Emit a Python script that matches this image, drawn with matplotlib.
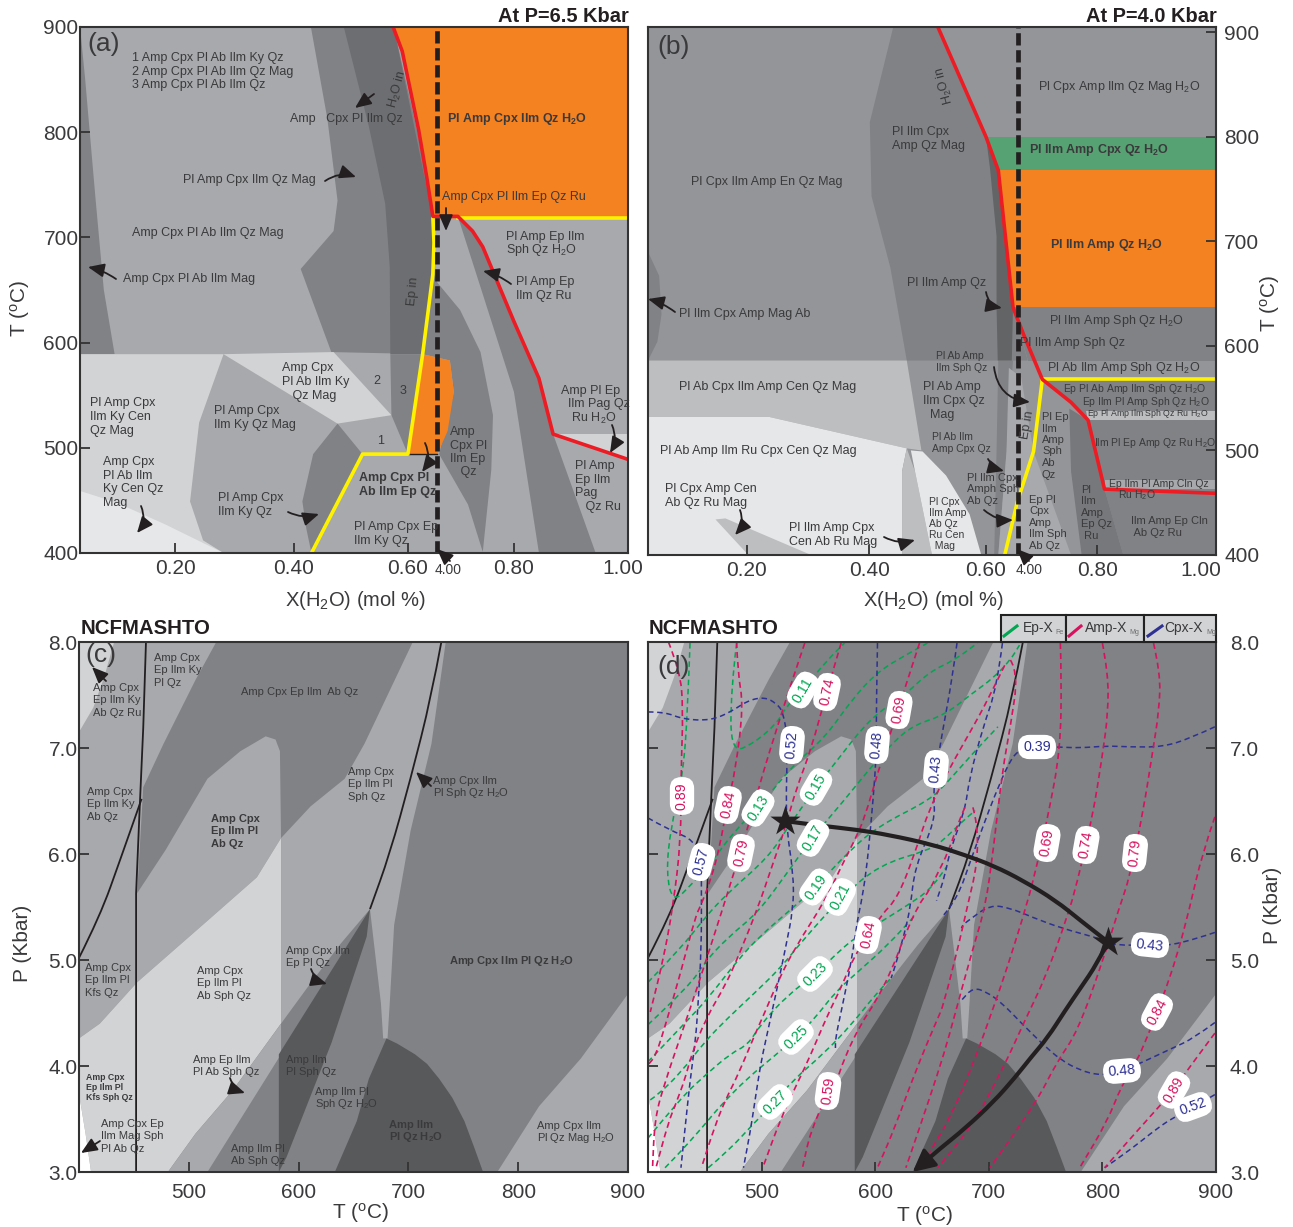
import matplotlib
matplotlib.use('Agg')
import matplotlib.pyplot as plt
from matplotlib.patches import Rectangle, PathPatch
from matplotlib.path import Path
from matplotlib.lines import Line2D
from matplotlib.transforms import ScaledTranslation

plt.rcParams['font.family'] = ['Liberation Sans', 'DejaVu Sans']
plt.rcParams['mathtext.default'] = 'regular'

W, H = 1293, 1227
TXT = '#3a3a3c'
INK = '#231f20'
G1, G2, G3, G4, G5, G6 = '#e6e7e8', '#d1d3d4', '#a7a9ac', '#939598', '#808285', '#6d6e71'
DARK = '#58595b'
ORANGE = '#f58220'
GREEN = '#57a273'
RED = '#ed1c24'
YELLOW = '#fff200'
PINK, EPG, CPX = '#d7125e', '#00a651', '#2e3192'

# ---- panel a: X(H2O), T
a_strip = [(.034, 900), (.043, 851), (.061, 739), (.076, 650), (.095, 589), (.034, 589)]
a_band1 = [(.441, 900), (.47, 813), (.488, 735), (.481, 706), (.423, 670), (.477, 591), (.645, 589),
           (.66, 660), (.656, 719), (.631, 795), (.587, 900)]
a_band2 = [(.499, 900), (.543, 806), (.572, 732), (.58, 672), (.581, 589), (.638, 589), (.656, 665),
           (.656, 719), (.587, 900)]
a_band3 = [(.581, 589), (.638, 589), (.612, 494), (.583, 531)]
a_low = [(.034, 589), (.287, 589), (.244, 524), (.228, 449), (.251, 412), (.287, 400), (.034, 400)]
a_lowest = [(.034, 459), (.098, 448), (.185, 427), (.287, 400), (.034, 400)]
a_tri = [(.287, 589), (.481, 591), (.583, 531), (.488, 523)]
a_mid = [(.488, 523), (.532, 494), (.442, 400), (.433, 423), (.426, 449), (.445, 494)]
a_curve = [(.664, 657), (.704, 631), (.74, 591), (.762, 531), (.759, 479), (.744, 401), (.718, 446),
           (.667, 494), (.693, 553), (.686, 583), (.638, 589), (.656, 665)]
a_right = [(.70, 720), (.744, 646), (.799, 553), (.843, 400), (.943, 400), (.868, 513), (.843, 566),
           (.799, 620), (.744, 691), (.726, 706)]
a_rlight = [(.868, 513), (1.0, 513), (1.0, 489)]
a_orange1 = [(.587, 900), (1.0, 900), (1.0, 718), (.656, 718), (.645, 758), (.631, 802), (.602, 877)]
a_orange2 = [(.638, 589), (.686, 583), (.693, 553), (.682, 516), (.664, 494), (.612, 494)]
a_red = [(.586, 900), (.602, 877), (.631, 802), (.645, 758), (.656, 720), (.70, 720), (.726, 706), (.744, 691),
         (.799, 620), (.843, 566), (.868, 513), (1.0, 489)]
a_yellow = [(.656, 720), (.658, 695), (.656, 665), (.638, 589), (.612, 494), (.532, 494), (.442, 400)]
a_yellow2 = [(.70, 718), (1.0, 718)]
a_thin = [(.612, 494), (.664, 494)]

# ---- panel b: X(H2O), T
b_band = [(.45, 905), (.41, 814), (.413, 743), (.445, 675), (.473, 586), (.679, 586), (.654, 637), (.629, 768),
          (.608, 800), (.526, 905)]
b_lobe = [(.032, 690), (.051, 667), (.055, 630), (.048, 604), (.032, 586)]
b_light = [(.032, 586), (.473, 586), (.498, 500), (.473, 502), (.239, 532), (.032, 532)]
b_white = [(.032, 532), (.239, 532), (.473, 502), (.465, 480), (.465, 400), (.032, 400)]
b_tri = [(.147, 434), (.164, 435), (.31, 400), (.203, 400)]
b_strip = [(.465, 480), (.473, 502), (.487, 480), (.516, 400), (.465, 400)]
b_white2 = [(.48, 500), (.5, 499), (.54, 476), (.58, 439), (.6, 400), (.516, 400), (.487, 480)]
b_mid = [(.629, 586), (.654, 586), (.643, 499), (.629, 400), (.622, 400), (.626, 499)]
b_dark = [(.608, 800), (.629, 768), (.654, 637), (.652, 586), (.628, 586), (.626, 637), (.626, 705), (.615, 769)]
b_green = [(.608, 800), (1, 800), (1, 768), (.629, 768)]
b_orange = [(.629, 768), (1, 768), (1, 637), (.654, 637)]
b_under = [(.654, 637), (1, 637), (1, 586), (.679, 586)]
b_lowr = [(.704, 568), (1, 568), (1, 460), (.81, 463), (.782, 529), (.753, 546)]
b_str1 = [(.778, 538), (1, 538), (1, 529), (.782, 529)]
b_str2 = [(.81, 472), (1, 472), (1, 463), (.81, 463)]
b_botr = [(.81, 463), (1, 460), (1, 400), (.842, 400)]
b_band2 = [(.75, 540), (.782, 529), (.81, 463), (.842, 400), (.771, 400), (.753, 480)]
b_pale = [(.689, 499), (.753, 400), (.64, 400)]
b_pale2 = [(.647, 579), (.668, 570), (.689, 499), (.661, 450), (.64, 400), (.629, 400), (.643, 499)]
b_red = [(.526, 905), (.608, 800), (.629, 768), (.654, 637), (.672, 611), (.704, 568), (.753, 546), (.782, 529),
         (.81, 463), (1, 459)]
b_yellow = [(.704, 568), (.689, 499), (.661, 450), (.64, 400)]
b_yellow2 = [(.704, 568), (1, 568)]

# ---- panels c and d share the same fields: T, P
c_upper = [(400, 8), (525, 8), (506, 7.64), (477, 7.04), (458.5, 6.63), (453, 5.63), (479, 6.04), (517, 6.71),
           (547, 6.97), (570, 7.11), (579, 7.08), (583, 6.97), (584, 6.15), (562, 5.78), (517, 5.37), (453, 4.79),
           (419, 4.40), (400, 4.26)]
c_corner = [(400, 8), (432, 8), (423, 7.67), (413, 7.38), (400, 7.15)]
c_pale = [(400, 4.26), (419, 4.40), (453, 4.79), (517, 5.37), (562, 5.78), (584, 6.15), (584, 4.40), (540, 3.77),
          (506, 3.36), (481, 3.0), (411, 3.0), (406, 3.36), (400, 3.74)]
c_white = [(400, 3.74), (406, 3.36), (411, 3), (400, 3)]
c_band = [(584, 6.15), (611, 6.45), (642, 6.71), (660, 7.04), (704, 8), (734, 8), (721, 7.04), (702, 6.22), (687, 5.33),
          (683, 4.59), (681, 4.26), (677, 4.26), (675, 4.59), (665, 5.48), (638, 5.15), (608, 4.74), (584, 4.40)]
c_lowband = [(584, 4.40), (540, 3.77), (506, 3.36), (481, 3), (517, 3), (584, 4.11)]
c_wedge = [(665, 5.48), (662, 5.22), (630, 4.22), (589, 3.14), (582, 3), (582, 4.11)]
c_dome = [(680, 4.26), (690, 4.21), (706, 4.11), (717, 4.02), (728, 3.88), (740, 3.70), (751, 3.48), (760, 3.23),
          (768, 3), (633, 3), (653, 3.48), (664, 3.88), (672, 4.07)]
c_corner2 = [(900, 4.68), (900, 3), (781, 3), (819, 3.62), (857, 4.07)]
c_l1 = [(400, 5.02), (419, 5.41), (438, 5.96), (457, 6.52)]
c_l2 = [(461, 8), (458.5, 7.19), (455, 6.37), (452, 5.63), (452, 3)]
c_l3 = [(730, 8), (721, 7.49), (702, 6.71), (683, 6.0), (665, 5.48)]

# ---- panel d isopleths: Amp-XMg
amp_089a = [(418, 8), (428, 7.73), (431, 7.38), (429, 6.76), (429, 6.13), (422, 5.5), (413, 4.98), (402, 4.51)]
amp_084a = [(478, 8), (479, 7.71), (484, 7.4), (477, 6.79), (470, 6.48), (463, 6.06), (455, 5.75), (446, 5.5),
            (442, 5.42), (429, 4.89), (416, 4.41), (407, 4.10), (400, 4.01)]
amp_079a = [(538, 7.99), (526, 7.61), (513, 7.17), (501, 6.76), (488, 6.25), (470, 5.63), (462, 5.36), (444, 4.76),
            (429, 4.29), (415, 3.85), (406, 3.51), (404, 3.04)]
amp_074a = [(570, 7.99), (557, 7.52), (544, 7.0), (530, 6.6), (521, 6.25), (509, 5.88), (497, 5.5), (479, 5.02),
            (468, 4.76), (451, 4.45), (438, 4.10), (433, 3.89), (424, 3.63), (418, 3.47), (407, 3.04)]
amp_069a = [(639, 7.99), (620, 7.36), (602, 6.76), (591, 6.35), (582, 6.13), (570, 5.88), (556, 5.56), (529, 5.11),
            (514, 4.79), (503, 4.51), (495, 4.32), (479, 3.91), (469, 3.7), (459, 3.44), (447, 3.04)]
amp_064 = [(714, 7.78), (699, 7.45), (683, 7.14), (666, 6.82), (648, 6.44), (635, 6.01), (620, 5.59), (605, 5.42),
           (594, 5.22), (582, 5.05), (570, 4.74), (558, 4.48), (543, 4.10), (532, 3.85), (517, 3.51), (501, 3.04)]
amp_059 = [(679, 6.44), (675, 6.35), (664, 6.01), (655, 5.82), (648, 5.66), (638, 5.52), (626, 5.23), (614, 4.89),
           (600, 4.6), (587, 4.39), (573, 4.08), (565, 3.82), (558, 3.74), (543, 3.38), (536, 3.04)]
amp_x1 = [(686, 6.44), (690, 6.29), (690, 5.91), (681, 5.5), (675, 5.21), (660, 4.57), (655, 4.45), (635, 3.94),
          (617, 3.41), (602, 3.04)]
amp_x2 = [(719, 7.83), (726, 7.71), (719, 7.2), (712, 6.79), (704, 6.04), (697, 5.5), (686, 5.11), (670, 4.48),
          (661, 4.13), (648, 3.7), (627, 3.04)]
amp_069b = [(763, 7.99), (764, 7.67), (763, 6.98), (752, 6.35), (742, 5.88), (734, 5.54), (716, 4.92), (704, 4.55),
            (686, 4.01), (666, 3.51), (648, 3.19), (641, 3.04)]
amp_074b = [(800, 7.99), (805, 7.71), (805, 7.33), (800, 6.93), (791, 6.33), (777, 5.7), (770, 5.44), (751, 4.86),
            (730, 4.39), (714, 4.01), (686, 3.44), (655, 3.04)]
amp_079b = [(845, 7.99), (851, 7.71), (850, 7.36), (844, 6.95), (836, 6.41), (824, 5.78), (815, 5.5), (800, 4.98),
            (778, 4.32), (760, 4.04), (742, 3.66), (701, 3.04)]
amp_084b = [(899, 6.35), (888, 6.01), (877, 5.5), (866, 5.05), (853, 4.64), (839, 4.26), (830, 4.04), (817, 3.82),
            (804, 3.47), (780, 3.04)]
amp_089b = [(899, 4.31), (883, 4.08), (862, 3.77), (851, 3.63), (830, 3.38), (802, 3.04)]

# Ep-XFe
ep_011 = [(478, 7.99), (473, 7.55), (473, 6.95), (494, 7.05), (514, 7.24), (521, 7.38), (536, 7.55), (558, 7.83), (573, 7.99)]
ep_013 = [(437, 7.99), (435, 7.38), (431, 6.76), (420, 6.25), (416, 5.82), (422, 5.54), (438, 5.71), (455, 5.91),
          (477, 6.23), (497, 6.43), (526, 6.82), (556, 7.1), (579, 7.45), (602, 7.72), (629, 7.89), (646, 7.99)]
ep_015 = [(400, 4.79), (429, 5.11), (450, 5.4), (470, 5.63), (506, 5.97), (523, 6.25), (548, 6.63), (567, 6.89),
          (591, 7.22), (611, 7.4), (626, 7.5), (648, 7.72), (670, 7.83), (690, 7.99)]
ep_017 = [(400, 4.39), (437, 4.76), (450, 4.98), (470, 5.21), (497, 5.45), (521, 5.8), (545, 6.16), (573, 6.51),
          (594, 6.79), (617, 7.07), (635, 7.22), (661, 7.31), (686, 7.52), (704, 7.66), (719, 7.83), (727, 7.97)]
ep_019 = [(400, 4.04), (433, 4.41), (453, 4.64), (479, 5), (499, 5.23), (523, 5.45), (548, 5.69), (578, 6.04),
          (604, 6.27), (648, 6.51), (663, 6.67), (686, 6.95), (708, 7.2)]
ep_021 = [(402, 3.68), (409, 3.73), (429, 3.94), (450, 4.23), (470, 4.45), (494, 4.69), (517, 4.93), (535, 5.17),
          (570, 5.59), (604, 5.9), (648, 6.04), (660, 6.13), (675, 6.29), (688, 6.41)]
ep_023 = [(400, 3.32), (429, 3.7), (450, 3.91), (473, 4.12), (488, 4.2), (499, 4.39), (523, 4.67), (547, 4.86),
          (565, 5.05), (582, 5.21), (605, 5.36), (629, 5.52), (648, 5.66), (663, 5.88)]
ep_025 = [(415, 3.04), (426, 3.16), (447, 3.41), (464, 3.63), (488, 3.89), (512, 4.1), (530, 4.27), (547, 4.45),
          (565, 4.7), (585, 4.89), (611, 5.14), (635, 5.42)]
ep_027 = [(453, 3.04), (470, 3.19), (494, 3.47), (512, 3.66), (526, 3.85), (556, 4.13), (579, 4.39), (600, 4.67), (614, 4.83)]

# Cpx-XMg
cpx_057 = [(400, 6.34), (418, 6.23), (441, 6.13), (447, 5.92), (447, 5.63), (447, 5.11), (444, 4.57), (442, 4.26),
           (438, 3.94), (435, 3.66), (429, 3.04)]
cpx_052a = [(400, 7.34), (415, 7.34), (431, 7.27), (455, 7.26), (473, 7.34), (488, 7.45), (503, 7.48), (513, 7.42),
            (519, 7.34), (523, 7.07), (521, 6.3), (528, 5.82), (528, 5.49), (521, 5.11), (513, 4.7), (504, 4.26),
            (499, 4.01), (494, 3.66), (490, 3.38), (484, 3.04)]
cpx_048a = [(602, 7.99), (601, 7.38), (601, 7.02), (600, 6.76), (596, 6.25), (592, 5.82), (587, 5.5), (585, 5.42),
            (579, 4.98), (570, 4.51), (565, 4.26), (565, 4.17)]
cpx_043a = [(672, 7.99), (668, 7.67), (659, 7.14), (654, 6.82), (651, 6.57), (653, 6.32), (635, 5.88), (631, 5.5),
            (626, 5.26), (617, 4.92), (614, 4.83)]
cpx_039 = [(899, 7.2), (877, 7.09), (853, 7.01), (824, 7.01), (804, 7.02), (780, 7.0), (761, 7.01), (742, 7.01),
           (725, 6.98), (716, 6.82), (710, 6.67), (701, 6.44), (683, 5.91), (675, 5.66), (666, 5.5), (660, 5.42)]
cpx_039b = [(712, 7.99), (707, 7.57), (695, 7.2), (683, 6.72), (679, 6.41), (666, 6.04), (661, 5.78), (654, 5.56)]
cpx_043b = [(899, 5.26), (866, 5.14), (842, 5.14), (811, 5.14), (805, 5.17), (795, 5.21), (764, 5.3), (739, 5.4),
            (719, 5.49), (701, 5.52), (683, 5.38), (677, 5.33), (676, 5.3)]
cpx_048b = [(899, 4.41), (880, 4.26), (862, 4.17), (848, 4.1), (836, 4.04), (817, 3.95), (798, 3.91), (780, 3.96),
            (763, 4.06), (748, 4.2), (730, 4.39), (712, 4.59), (698, 4.7), (686, 4.74), (676, 4.62)]
cpx_052b = [(899, 3.73), (880, 3.61), (862, 3.51), (848, 3.41), (827, 3.23), (802, 3.04)]

# P-T path
path_1 = [(521, 6.31), (557, 6.26), (583, 6.23), (612, 6.18), (650, 6.09), (679, 5.99), (704, 5.89), (730, 5.75),
          (759, 5.56), (781, 5.37), (805, 5.17)]
path_2 = [(805, 5.17), (795, 4.96), (781, 4.74), (767, 4.52), (752, 4.27), (737, 4.08), (723, 3.89), (704, 3.66),
          (679, 3.41), (657, 3.22), (642, 3.08)]
path_end = (633, 3.0)

# ---- tick labels
x_ticks_a = [.2018, .411, .612, .799, 1.0]
x_ticks_b = [.2, .409, .608, .798, 1.0]
x_labels = ['0.20', '0.40', '0.60', '0.80', '1.00']
t_ticks = [900, 800, 700, 600, 500, 400]
tp_ticks = [500, 600, 700, 800, 900]
p_ticks = [8, 7, 6, 5, 4, 3]
p_labels = ['8.0', '7.0', '6.0', '5.0', '4.0', '3.0']

# text: left px, top line py, line step, text, size, weight
labels_a = [
    (132, 58, 13.5, '1 Amp Cpx Pl Ab Ilm Ky Qz\n2 Amp Cpx Pl Ab Ilm Qz Mag\n3 Amp Cpx Pl Ab Ilm Qz', 9, 'normal'),
    (290, 119, 0, 'Amp   Cpx Pl Ilm Qz', 9, 'normal'),
    (447, 119, 0, 'Pl Amp Cpx Ilm Qz H$_2$O', 9, 'bold'),
    (183, 180, 0, 'Pl Amp Cpx Ilm Qz Mag', 9, 'normal'),
    (442, 197, 0, 'Amp Cpx Pl Ilm Ep Qz Ru', 9, 'normal'),
    (132, 233, 0, 'Amp Cpx Pl Ab Ilm Qz Mag', 9, 'normal'),
    (123, 279, 0, 'Amp Cpx Pl Ab Ilm Mag', 9, 'normal'),
    (506, 237, 13.5, 'Pl Amp Ep Ilm\nSph Qz H$_2$O', 9, 'normal'),
    (516, 282, 13.5, 'Pl Amp Ep\nIlm Qz Ru', 9, 'normal'),
    (282, 368, 14, 'Amp Cpx\nPl Ab Ilm Ky\n   Qz Mag', 9, 'normal'),
    (373, 381, 0, '2', 9, 'normal'), (400, 391, 0, '3', 9, 'normal'), (377, 441, 0, '1', 9, 'normal'),
    (90, 403, 14, 'Pl Amp Cpx\nIlm Ky Cen\nQz Mag', 9, 'normal'),
    (214, 411, 14, 'Pl Amp Cpx\nIlm Ky Qz Mag', 9, 'normal'),
    (561, 391, 13.5, 'Amp Pl Ep\n  Ilm Pag Qz\n   Ru H$_2$O', 9, 'normal'),
    (450, 432, 13.5, 'Amp\nCpx Pl\nIlm Ep\n   Qz', 9, 'normal'),
    (103, 462, 13.7, 'Amp Cpx\nPl Ab Ilm\nKy Cen Qz\nMag', 9, 'normal'),
    (359, 478, 14, 'Amp Cpx Pl\nAb Ilm Ep Qz', 9, 'bold'),
    (575, 466, 13.7, 'Pl Amp\nEp Ilm\nPag\n   Qz Ru', 9, 'normal'),
    (218, 498, 14, 'Pl Amp Cpx\nIlm Ky Qz', 9, 'normal'),
    (354, 527, 14, 'Pl Amp Cpx Ep\nIlm Ky Qz', 9, 'normal'),
    (435, 570, 0, '4.00', 10, 'normal'),
]
labels_b = [
    (1038, 87, 0, 'Pl Cpx Amp Ilm Qz Mag H$_2$O', 9, 'normal'),
    (892, 132, 14, 'Pl Ilm Cpx\nAmp Qz Mag', 9, 'normal'),
    (1029, 150, 0, 'Pl Ilm Amp Cpx Qz H$_2$O', 9, 'bold'),
    (691, 182, 0, 'Pl Cpx Ilm Amp En Qz Mag', 9, 'normal'),
    (1050, 245, 0, 'Pl Ilm Amp Qz H$_2$O', 9, 'bold'),
    (907, 283, 0, 'Pl Ilm Amp Qz', 9, 'normal'),
    (679, 314, 0, 'Pl Ilm Cpx Amp Mag Ab', 9, 'normal'),
    (1049, 321, 0, 'Pl Ilm Amp Sph Qz H$_2$O', 9, 'normal'),
    (1020, 343, 0, 'Pl Ilm Amp Sph Qz', 9, 'normal'),
    (936, 356, 11.5, 'Pl Ab Amp\nIlm Sph Qz', 7.5, 'normal'),
    (1047, 368, 0, 'Pl Ab Ilm Amp Sph Qz H$_2$O', 9, 'normal'),
    (679, 387, 0, 'Pl Ab Cpx Ilm Amp Cen Qz Mag', 9, 'normal'),
    (923, 387, 14, 'Pl Ab Amp\nIlm Cpx Qz\n  Mag', 9, 'normal'),
    (1063, 389, 0, 'Ep Pl Ab Amp Ilm Sph Qz H$_2$O', 7.5, 'normal'),
    (1082, 402, 0, 'Ep Ilm Pl Amp Sph Qz H$_2$O', 7.5, 'normal'),
    (1087, 414, 0, 'Ep Pl Amp Ilm Sph Qz Ru H$_2$O', 6.3, 'normal'),
    (1042, 417, 11.5, 'Pl Ep\nIlm\nAmp\nSph\nAb\nQz', 8, 'normal'),
    (1094, 443, 0, 'Ilm Pl Ep Amp Qz Ru H$_2$O', 7.5, 'normal'),
    (932, 437, 11.5, 'Pl Ab Ilm\nAmp Cpx Qz', 7.5, 'normal'),
    (660, 451, 0, 'Pl Ab Amp Ilm Ru Cpx Cen Qz Mag', 9, 'normal'),
    (1109, 484, 0, 'Ep Ilm Pl Amp Cln Qz', 7.5, 'normal'),
    (1118, 495, 0, 'Ru H$_2$O', 7.5, 'normal'),
    (967, 478, 11.3, 'Pl Ilm Cpx\nAmph Sph\nAb Qz', 8, 'normal'),
    (665, 489, 14, 'Pl Cpx Amp Cen\nAb Qz Ru Mag', 9, 'normal'),
    (929, 502, 11, 'Pl Cpx\nIlm Amp\nAb Qz\nRu Cen\n  Mag', 7.5, 'normal'),
    (1029, 500, 11.4, 'Ep Pl\nCpx\nAmp\nIlm Sph\nAb Qz', 8, 'normal'),
    (1081, 490, 11.5, 'Pl\nIlm\nAmp\nEp Qz\n Ru', 8, 'normal'),
    (1131, 521, 11.5, 'Ilm Amp Ep Cln\n Ab Qz Ru', 8, 'normal'),
    (789, 528, 14, 'Pl Ilm Amp Cpx\nCen Ab Ru Mag', 9, 'normal'),
    (1016, 570, 0, '4.00', 10, 'normal'),
]
labels_c = [
    (154, 658, 12.3, 'Amp Cpx\nEp Ilm Ky\nPl Qz', 8, 'normal'),
    (93, 688, 12.3, 'Amp Cpx\nEp Ilm Ky\nAb Qz Ru', 8, 'normal'),
    (241, 692, 0, 'Amp Cpx Ep Ilm  Ab Qz', 8, 'normal'),
    (348, 772, 12.3, 'Amp Cpx\nEp Ilm Pl\nSph Qz', 8, 'normal'),
    (433, 781, 12.3, 'Amp Cpx Ilm\nPl Sph Qz H$_2$O', 8, 'normal'),
    (87, 792, 12.3, 'Amp Cpx\nEp Ilm Ky\nAb Qz', 8, 'normal'),
    (211, 819, 12.3, 'Amp Cpx\nEp Ilm Pl\nAb Qz', 8, 'bold'),
    (449, 961, 0, 'Amp Cpx Ilm Pl Qz H$_2$O', 8, 'bold'),
    (286, 951, 12.3, 'Amp Cpx Ilm\nEp Pl Qz', 8, 'normal'),
    (197, 971, 12.3, 'Amp Cpx\nEp Ilm Pl\nAb Sph Qz', 8, 'normal'),
    (85, 968, 12.3, 'Amp Cpx\nEp Ilm Pl\nKfs Qz', 8, 'normal'),
    (193, 1060, 12.3, 'Amp Ep Ilm\nPl Ab Sph Qz', 8, 'normal'),
    (286, 1060, 12.3, 'Amp Ilm\nPl Sph Qz', 8, 'normal'),
    (86, 1078, 10, 'Amp Cpx\nEp Ilm Pl\nKfs Sph Qz', 6.3, 'bold'),
    (315, 1092, 12.3, 'Amp Ilm Pl\nSph Qz H$_2$O', 8, 'normal'),
    (101, 1124, 12.3, 'Amp Cpx Ep\nIlm Mag Sph\nPl Ab Qz', 8, 'normal'),
    (389, 1125, 12.3, 'Amp Ilm\nPl Qz H$_2$O', 8, 'bold'),
    (537, 1126, 12.3, 'Amp Cpx Ilm\nPl Qz Mag H$_2$O', 8, 'normal'),
    (231, 1149, 12.3, 'Amp Ilm Pl\nAb Sph Qz', 8, 'normal'),
]
# arrows: tail px, head px, curvature
arrows_all = [
    (374, 94, 355, 108, 0), (325, 181, 356, 177, -.25), (116, 279, 88, 267, .1), (446, 208, 446, 231, 0),
    (511, 284, 483, 271, .1), (425, 443, 422, 472, -.3), (141, 506, 137, 533, -.3), (288, 512, 319, 514, .2),
    (612, 425, 610, 453, -.25), (450, 561, 437, 549, 0),
    (675, 312, 648, 299, .1), (986, 292, 1002, 308, .35), (994, 367, 1030, 402, .4),
    (988, 459, 1004, 471, .2), (984, 510, 1013, 520, .2), (740, 510, 735, 535, -.3), (884, 537, 915, 540, .2),
    (1029, 561, 1017, 549, 0),
    (106, 681, 92, 667, 0), (431, 786, 416, 772, 0), (311, 969, 327, 984, .25), (230, 1078, 245, 1093, .25),
    (100, 1141, 81, 1153, 0),
]
# curve labels in d: px, py, text, rotation
tags_amp = [(682, 796, '0.89', 90), (728, 805, '0.84', 78), (741, 853, '0.79', 78), (827, 692, '0.74', 78),
            (899, 710, '0.69', 80), (868, 935, '0.64', 78), (828, 1091, '0.59', 82), (1047, 843, '0.69', 80),
            (1086, 845, '0.74', 80), (1135, 853, '0.79', 84), (1157, 1012, '0.84', 62), (1174, 1090, '0.89', 60)]
tags_ep = [(803, 690, '0.11', 60), (758, 808, '0.13', 58), (816, 787, '0.15', 60), (813, 838, '0.17', 60),
           (816, 887, '0.19', 55), (840, 897, '0.21', 62), (815, 974, '0.23', 45), (796, 1037, '0.25', 45),
           (775, 1102, '0.27', 45)]
tags_cpx = [(792, 745, '0.52', 85), (877, 745, '0.48', 85), (936, 769, '0.43', 85), (701, 862, '0.57', 75),
            (1037, 747, '0.39', 0), (1150, 945, '0.43', -6), (1122, 1071, '0.48', 5), (1193, 1107, '0.52', 20)]
# legend above d: box left, right, colour, swatch x0, x1, text, text x, subscript, subscript x
legend_cells = [(1001, 1066, EPG, 1004, 1017, 'Ep-X', 1023, 'Fe', 1055),
                (1066, 1144, PINK, 1069, 1081, 'Amp-X', 1085, 'Mg', 1129),
                (1144, 1216, CPX, 1148, 1162, 'Cpx-X', 1164, 'Mg', 1206)]

fig = plt.figure(figsize=(W / 100, H / 100), dpi=100, facecolor='white')


def new_ax(l, t, r, b):
    return fig.add_axes([l / W, 1 - b / H, (r - l) / W, (b - t) / H])


def fill(ax, poly, color):
    xs, ys = zip(*poly)
    ax.fill(xs, ys, color=color, lw=0, zorder=1)


def line(ax, pts, color, lw, z=3, **kw):
    xs, ys = zip(*pts)
    ax.plot(xs, ys, color=color, lw=lw, zorder=z, **kw)


def curve(ax, pts, color, lw, z=3, ls='-'):
    # read points act as quadratic control points so the curve runs smooth
    verts, codes = [pts[0]], [Path.MOVETO]
    for p, q in zip(pts[1:-1], pts[2:]):
        verts += [p, ((p[0] + q[0]) / 2, (p[1] + q[1]) / 2)]
        codes += [Path.CURVE3, Path.CURVE3]
    verts.append(pts[-1])
    codes.append(Path.LINETO)
    ax.add_patch(PathPatch(Path(verts, codes), fc='none', ec=color, lw=lw, ls=ls, zorder=z, capstyle='butt'))


def ptext(x, y, s, size=9, weight='normal', color=TXT, **kw):
    kw.setdefault('ha', 'left')
    kw.setdefault('va', 'center')
    return fig.text(x / W, 1 - y / H, s, fontsize=size, fontweight=weight, color=color, zorder=10, **kw)


def put_labels(labels):
    for x, y, step, s, size, weight in labels:
        for i, row in enumerate(s.split('\n')):
            ptext(x, y + i * step, row, size, weight)


def style(ax, xpad=4, ypad=1):
    for sp in ax.spines.values():
        sp.set_linewidth(1.5)
        sp.set_color('#333333')
        sp.set_zorder(8)
    ax.tick_params(direction='in', length=7.5, width=1.3, color='#333333', labelsize=15, labelcolor=TXT)
    ax.tick_params(axis='x', pad=xpad)
    ax.tick_params(axis='y', pad=ypad)


def nudge_last(ax, px):
    lab = ax.xaxis.get_majorticklabels()[-1]
    lab.set_transform(lab.get_transform() + ScaledTranslation(px / 100, 0, fig.dpi_scale_trans))


# ---- a
ax = new_ax(80, 27, 628, 553)
ax.set_facecolor(G3)
ax.set_xlim(.034, 1.0)
ax.set_ylim(400, 900)
for poly, c in [(a_strip, G5), (a_band1, G5), (a_band2, G6), (a_band3, G5), (a_low, G2), (a_lowest, G1), (a_tri, G2),
                (a_mid, G5), (a_curve, G5), (a_right, G5), (a_rlight, G2), (a_orange1, ORANGE), (a_orange2, ORANGE)]:
    fill(ax, poly, c)
line(ax, a_thin, INK, 1)
line(ax, a_yellow, YELLOW, 2.6)
line(ax, a_yellow2, YELLOW, 2.6)
line(ax, a_red, RED, 2.6, z=4)
ax.axvline(.664, color=INK, lw=3.4, dashes=(2.6, 1), zorder=5)
style(ax)
ax.set_xticks(x_ticks_a, x_labels)
ax.set_yticks(t_ticks)
nudge_last(ax, -5)
put_labels(labels_a)
ptext(398, 89, 'H$_2$O in', 9, rotation=75, ha='center')
ptext(413, 291, 'Ep in', 9, rotation=85, ha='center')
ptext(87, 44, '(a)', 19)
ptext(629, 16, 'At P=6.5 Kbar', 14.4, 'bold', color=INK, ha='right')
ptext(356, 601, 'X(H$_2$O) (mol %)', 14.5, ha='center')
ptext(20, 308, 'T ($^{o}$C)', 15, rotation=90, ha='center')

# ---- b
ax = new_ax(648, 27, 1216, 555)
ax.set_facecolor(G4)
ax.set_xlim(.032, 1.0)
ax.set_ylim(400, 905)
for poly, c in [(b_band, G5), (b_lobe, G5), (b_light, '#bcbec0'), (b_white, G1), (b_tri, '#bcbec0'),
                (b_strip, '#bcbec0'), (b_white2, G1), (b_mid, G5), (b_dark, '#636466'), (b_green, GREEN),
                (b_orange, ORANGE), (b_under, G5), (b_lowr, G5), (b_str1, '#bcbec0'), (b_str2, G3), (b_botr, G5),
                (b_band2, '#77787b'), (b_pale, G3), (b_pale2, G3)]:
    fill(ax, poly, c)
line(ax, b_yellow, YELLOW, 2.6)
line(ax, b_yellow2, YELLOW, 2.6)
line(ax, b_red, RED, 2.6, z=4)
ax.axvline(.663, color=INK, lw=3.4, dashes=(2.6, 1), zorder=5)
style(ax, ypad=6)
ax.set_xticks(x_ticks_b, x_labels)
ax.yaxis.tick_right()
ax.set_yticks(t_ticks)
nudge_last(ax, -15)
put_labels(labels_b)
ptext(945, 85, 'H$_2$O in', 9, rotation=105, ha='center')
ptext(1028, 425, 'Ep in', 9, rotation=80, ha='center')
ptext(657, 47, '(b)', 19)
ptext(1217, 16, 'At P=4.0 Kbar', 14.4, 'bold', color=INK, ha='right')
ptext(934, 601, 'X(H$_2$O) (mol %)', 14.5, ha='center')
ptext(1270, 303, 'T ($^{o}$C)', 15, rotation=90, ha='center')


def pt_fields(ax, ypad):
    ax.set_facecolor(G5)
    ax.set_xlim(400, 900)
    ax.set_ylim(3, 8)
    for poly, c in [(c_upper, G3), (c_corner, G2), (c_pale, G2), (c_white, 'white'), (c_band, G3), (c_lowband, G3),
                    (c_wedge, DARK), (c_dome, DARK), (c_corner2, G3)]:
        fill(ax, poly, c)
    curve(ax, c_l1, INK, 1.3)
    line(ax, c_l2, INK, 1.3)
    curve(ax, c_l3, INK, 1.3)
    style(ax, xpad=8, ypad=ypad)
    ax.set_xticks(tp_ticks)
    ax.set_yticks(p_ticks, p_labels)


# ---- c
ax = new_ax(79, 642, 628, 1172)
pt_fields(ax, 1)
put_labels(labels_c)
ptext(85, 655, '(c)', 19)
ptext(81, 628, 'NCFMASHTO', 14.7, 'bold', color=INK)
ptext(361, 1213, 'T ($^{o}$C)', 15, ha='center')
ptext(22, 943, 'P (Kbar)', 15, rotation=90, ha='center')

# ---- d
ax = new_ax(648, 642, 1216, 1172)
pt_fields(ax, 10)
ax.tick_params(left=True, right=True, labelleft=False, labelright=True)
dash = (0, (3.6, 2.4))
for c_ in [amp_089a, amp_084a, amp_079a, amp_074a, amp_069a, amp_064, amp_059, amp_x1, amp_x2, amp_069b, amp_074b,
           amp_079b, amp_084b, amp_089b]:
    curve(ax, c_, PINK, 1.2, z=4, ls=dash)
for c_ in [ep_011, ep_013, ep_015, ep_017, ep_019, ep_021, ep_023, ep_025, ep_027]:
    curve(ax, c_, EPG, 1.1, z=3.6, ls=dash)
for c_ in [cpx_057, cpx_052a, cpx_048a, cpx_043a, cpx_039, cpx_039b, cpx_043b, cpx_048b, cpx_052b]:
    curve(ax, c_, CPX, 1.1, z=3.8, ls=dash)
curve(ax, path_1, INK, 3, z=6)
curve(ax, path_2, INK, 3, z=6)
ax.annotate('', xy=path_end, xytext=path_2[-1], annotation_clip=False, zorder=7,
            arrowprops=dict(arrowstyle='-|>,head_length=.9,head_width=.45', color=INK, lw=2.5, mutation_scale=15,
                            shrinkA=0, shrinkB=0))
ax.scatter(*zip(path_1[0], path_1[-1]), marker='*', s=520, color=INK, lw=0, zorder=7)
for tags, c in [(tags_amp, PINK), (tags_ep, EPG), (tags_cpx, CPX)]:
    for x, y, s, rot in tags:
        ptext(x, y, s, 10.3, color=c, rotation=rot, ha='center', rotation_mode='anchor',
              bbox=dict(boxstyle='round,pad=.36,rounding_size=.8', fc='white', ec='none'))
ptext(657, 667, '(d)', 19)
ptext(649, 628, 'NCFMASHTO', 14.7, 'bold', color=INK)
ptext(925, 1216, 'T ($^{o}$C)', 15, ha='center')
ptext(1273, 905, 'P (Kbar)', 15, rotation=90, ha='center')

# legend boxes above d
for l, r, c, x0, x1, s, sx, sub, subx in legend_cells:
    fig.add_artist(Rectangle((l / W, 1 - 642 / H), (r - l) / W, 27 / H, transform=fig.transFigure, fc=G2, ec='#222222', lw=1.5))
    fig.add_artist(Line2D([x0 / W, x1 / W], [1 - 636 / H, 1 - 626 / H], color=c, lw=2.2))
    ptext(sx, 628, s, 10)
    ptext(subx, 633, sub, 5, color='#6d6e71')

# arrows
overlay = fig.add_axes([0, 0, 1, 1], facecolor='none')
overlay.set_xlim(0, W)
overlay.set_ylim(H, 0)
overlay.axis('off')
for x0, y0, x1, y1, rad in arrows_all:
    overlay.annotate('', xy=(x1, y1), xytext=(x0, y0),
                     arrowprops=dict(arrowstyle='-|>,head_length=.7,head_width=.3', color=INK, lw=1.3, mutation_scale=14,
                                     shrinkA=0, shrinkB=0, connectionstyle='arc3,rad=%.2f' % rad))

fig.savefig('out.png', dpi=100)
